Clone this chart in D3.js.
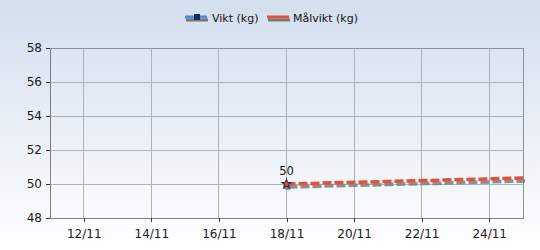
<!DOCTYPE html>
<html>
<head>
<meta charset="utf-8">
<script src="https://cdn.jsdelivr.net/npm/d3@7"></script>
<style>
  body { margin: 0; }
  svg { display: block; font-family: "DejaVu Sans", sans-serif; }
</style>
</head>
<body>
<div id="chart"></div>
<script>
// days shown on the x axis (November)
const dayRange = [11, 25];
const tickDays = [12, 14, 16, 18, 20, 22, 24];
const yTicks = [48, 50, 52, 54, 56, 58];

// Vikt (kg) - only one measurement
const viktDays = [18];
const viktValues = [50];

// Målvikt (kg) - target line
const malDays = [18, 19, 20, 21, 22, 23, 24, 25];
const malValues = [50.0, 50.05, 50.1, 50.15, 50.2, 50.25, 50.3, 50.36];

const width = 540, height = 250;
const margin = { top: 48, right: 17, bottom: 32, left: 50 };

let svg = d3.select('#chart').append('svg')
    .attr('width', width)
    .attr('height', height);

let defs = svg.append('defs');
let grad = defs.append('linearGradient')
    .attr('id', 'bg').attr('x1', 0).attr('y1', 0).attr('x2', 0).attr('y2', 1);
grad.append('stop').attr('offset', '0%').attr('stop-color', '#d3deee');
grad.append('stop').attr('offset', '100%').attr('stop-color', '#ffffff');

svg.append('rect')
    .attr('width', width).attr('height', height)
    .attr('fill', 'url(#bg)');

const xScale = d3.scaleLinear()
    .domain(dayRange)
    .range([margin.left, width - margin.right]);

const yScale = d3.scaleLinear()
    .domain([48, 58])
    .range([height - margin.bottom, margin.top]);

// grid
let grid = svg.append('g');
grid.selectAll('.vg').data(tickDays).enter().append('line')
    .attr('x1', d => xScale(d)).attr('x2', d => xScale(d))
    .attr('y1', margin.top).attr('y2', height - margin.bottom)
    .attr('stroke', '#adb3bc').attr('shape-rendering', 'crispEdges');
grid.selectAll('.hg').data(yTicks).enter().append('line')
    .attr('x1', margin.left).attr('x2', width - margin.right)
    .attr('y1', d => yScale(d)).attr('y2', d => yScale(d))
    .attr('stroke', '#adb3bc').attr('shape-rendering', 'crispEdges');

// plot frame (top and right)
svg.append('path')
    .attr('d', `M${margin.left},${margin.top}H${width - margin.right}V${height - margin.bottom}`)
    .attr('fill', 'none').attr('stroke', '#8c929b').attr('shape-rendering', 'crispEdges');

// axes
let xAxis = svg.append('g')
    .attr('transform', `translate(0,${height - margin.bottom})`)
    .call(d3.axisBottom(xScale).tickValues(tickDays).tickSize(4).tickSizeOuter(0)
        .tickFormat(d => d + '/11'));
let yAxis = svg.append('g')
    .attr('transform', `translate(${margin.left},0)`)
    .call(d3.axisLeft(yScale).tickValues(yTicks).tickSize(4).tickSizeOuter(0));

[xAxis, yAxis].forEach(a => {
    a.select('.domain').attr('stroke', '#7a7f86').attr('shape-rendering', 'crispEdges');
    a.selectAll('.tick line').attr('stroke', '#333').attr('shape-rendering', 'crispEdges');
    a.selectAll('text').attr('fill', '#1a1a1a').attr('font-size', 12)
        .attr('font-family', '"DejaVu Sans", sans-serif');
});
xAxis.selectAll('text').attr('dy', '1.1em');
yAxis.selectAll('text').attr('dx', '-1px');

let line = d3.line().x(d => xScale(d[0])).y(d => yScale(d[1]));
let malData = malDays.map((d, i) => [d, malValues[i]]);
let viktData = viktDays.map((d, i) => [d, viktValues[i]]);

let plot = svg.append('g');

// shadows
plot.append('path').datum(malData).attr('d', line)
    .attr('fill', 'none').attr('stroke', '#7d7d7d').attr('stroke-width', 3.5)
    .attr('stroke-dasharray', '9,3').attr('opacity', 0.85)
    .attr('transform', 'translate(2,3)');
plot.selectAll('.vshadow').data(viktData).enter().append('circle')
    .attr('cx', d => xScale(d[0]) + 1).attr('cy', d => yScale(d[1]) + 2)
    .attr('r', 4).attr('fill', '#888');

// Målvikt line
plot.append('path').datum(malData).attr('d', line)
    .attr('fill', 'none').attr('stroke', '#e0523a').attr('stroke-width', 3.5)
    .attr('stroke-dasharray', '9,3');

// Vikt marker
plot.selectAll('.vpt').data(viktData).enter().append('path')
    .attr('d', d3.symbol(d3.symbolStar, 50))
    .attr('transform', d => `translate(${xScale(d[0])},${yScale(d[1])})`)
    .attr('fill', '#3a2f4a');
plot.selectAll('.vdot').data(viktData).enter().append('circle')
    .attr('cx', d => xScale(d[0])).attr('cy', d => yScale(d[1]))
    .attr('r', 2).attr('fill', '#d2503a');

plot.selectAll('.vlabel').data(viktData).enter().append('text')
    .attr('x', d => xScale(d[0])).attr('y', d => yScale(d[1]) - 9)
    .attr('text-anchor', 'middle').attr('font-size', 11.5).attr('fill', '#111')
    .text(d => d[1]);

// legend
let legend = svg.append('g').attr('transform', 'translate(185,17)');
legend.append('line').attr('x1', 1).attr('x2', 23).attr('y1', 3).attr('y2', 3)
    .attr('stroke', '#777').attr('stroke-width', 3);
legend.append('line').attr('x1', 0).attr('x2', 22).attr('y1', 0).attr('y2', 0)
    .attr('stroke', '#4a8fdb').attr('stroke-width', 3);
legend.append('rect').attr('x', 9).attr('y', -3).attr('width', 6).attr('height', 6)
    .attr('fill', '#1f2b4a');
legend.append('text').attr('x', 27).attr('y', 5).attr('font-size', 11)
    .attr('fill', '#111').text('Vikt (kg)');

legend.append('line').attr('x1', 83).attr('x2', 105).attr('y1', 3).attr('y2', 3)
    .attr('stroke', '#777').attr('stroke-width', 3);
legend.append('line').attr('x1', 82).attr('x2', 104).attr('y1', 0).attr('y2', 0)
    .attr('stroke', '#d9533a').attr('stroke-width', 3);
legend.append('text').attr('x', 108).attr('y', 5).attr('font-size', 11)
    .attr('fill', '#111').text('Målvikt (kg)');
</script>
</body>
</html>
